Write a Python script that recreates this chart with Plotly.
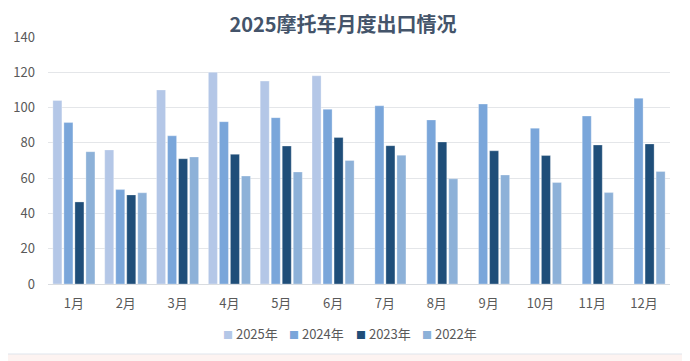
import plotly.graph_objects as go

months = ["1月", "2月", "3月", "4月", "5月", "6月", "7月", "8月", "9月", "10月", "11月", "12月"]
y2025 = [104, 76, 110, 120, 115, 118, None, None, None, None, None, None]
y2024 = [91.5, 53.5, 84, 92, 94.3, 99, 101, 93, 102, 88.3, 95.2, 105.3]
y2023 = [46.5, 50.5, 71, 73.5, 78.2, 83, 78.4, 80.5, 75.5, 72.8, 78.8, 79.4]
y2022 = [75, 51.7, 72, 61.2, 63.5, 70, 73, 59.6, 61.8, 57.5, 51.8, 63.8]
series_names = ["2025年", "2024年", "2023年", "2022年"]
colors = ["#b4c7e7", "#7aa6da", "#1f4e79", "#8db1d8"]
yticks = [0, 20, 40, 60, 80, 100, 120, 140]

font_cn = "Noto Sans CJK SC"
fig = go.Figure()
for name, vals, col in zip(series_names, [y2025, y2024, y2023, y2022], colors):
    fig.add_trace(go.Bar(
        x=months, y=vals, name=name, showlegend=False,
        marker=dict(color=col, line=dict(color="rgba(255,255,255,0.6)", width=0.5)),
    ))

# page body has an 8px margin; work in window coordinates and shift
OFF = 8
WIN_W, WIN_H = 690, 361
W, H = WIN_W - OFF, WIN_H - OFF
PL, PR, PT, PB = 48, 670, 37, 284  # plot area in window px
L, R, T, B = PL - OFF, WIN_W - PR, PT - OFF, WIN_H - PB
pw = W - L - R
ph = H - T - B

def px_x(x):
    return (x - PL) / pw

def px_y(y):
    return (PB - y) / ph

fig.add_shape(type="rect", xref="paper", yref="paper",
              x0=px_x(2), x1=px_x(684), y0=px_y(354), y1=px_y(2),
              fillcolor="white", line=dict(color="#dfe5ec", width=1), layer="below")

# legend drawn as text entries (swatch + label)
legend_x = [221, 287, 354, 420]
for name, col, lx in zip(series_names, colors, legend_x):
    fig.add_annotation(
        xref="paper", yref="paper", x=px_x(lx), y=px_y(333),
        xanchor="left", yanchor="middle", showarrow=False,
        text=f"<span style='color:{col};font-size:10px'>■</span> {name}",
        font=dict(family=font_cn, size=13, color="#595959"),
    )

fig.update_layout(
    width=W, height=H,
    margin=dict(l=L, r=R, t=T, b=B, autoexpand=False),
    paper_bgcolor="#fdf3f1",
    plot_bgcolor="white",
    barmode="group",
    bargap=0.15,
    bargroupgap=0.18,
    font=dict(family=font_cn, color="#595959", size=13),
    title=dict(text="<b>2025摩托车月度出口情况</b>", x=(343 - OFF) / W, xanchor="center",
               y=1 - (25 - OFF) / H, yanchor="middle", yref="container",
               font=dict(family=font_cn, size=20, color="#44546a")),
    showlegend=False,
    xaxis=dict(showgrid=False, showline=False, ticks="", ticklabelstandoff=10, automargin=False,
               tickfont=dict(family=font_cn, size=13, color="#595959")),
    yaxis=dict(range=[0, 140], tickvals=yticks, showgrid=True, gridcolor="#e4e6e9",
               gridwidth=1, zeroline=True, zerolinecolor="#d9dce0", zerolinewidth=1,
               showline=False, ticks="", ticklabelstandoff=12, automargin=False,
               tickfont=dict(family=font_cn, size=13, color="#595959")),
)

fig.write_html("out.html")
